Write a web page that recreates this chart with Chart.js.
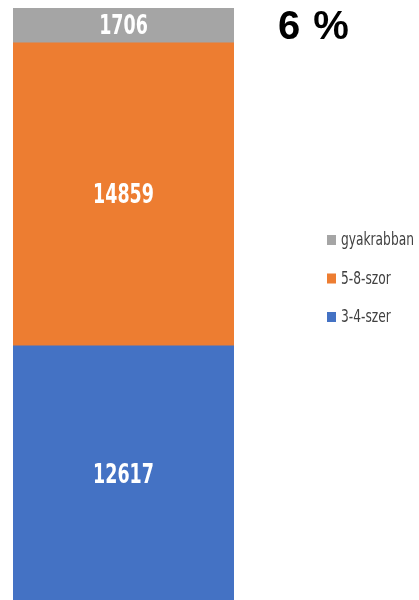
<!DOCTYPE html>
<html>
<head>
<meta charset="utf-8">
<script src="https://cdn.jsdelivr.net/npm/chart.js@4"></script>
<style>
    body { margin: 0; background: #fff; overflow: hidden; }
    #wrap { position: relative; width: 419px; height: 600px; overflow: hidden; }
    #pct {
        position: absolute; left: 278px; top: 3px;
        font-family: "Liberation Sans", Arial, sans-serif;
        font-weight: bold; font-size: 40px; letter-spacing: 1px; color: #000;
    }
</style>
</head>
<body>
<div id="wrap">
    <canvas id="barChart" width="419" height="603"></canvas>
    <div id="pct">6 %</div>
</div>
<script>
const categories = [''];
const seriesLabels = ['3-4-szer', '5-8-szor', 'gyakrabban'];
const values34 = [12617];
const values58 = [14859];
const valuesMore = [1706];
const seriesColors = ['#4472C4', '#ED7D31', '#A5A5A5'];
const legendOrder = [2, 1, 0];

const narrowFont = '"Liberation Sans Narrow", "DejaVu Sans Condensed", sans-serif';

// text squeezed sideways, the picture's font is narrower than what we have
function squeezedText(ctx, text, x, y, sx) {
    ctx.save();
    ctx.translate(x, y);
    ctx.scale(sx, 1);
    ctx.fillText(text, 0, 0);
    ctx.restore();
}

// labels inside the bars + legend at the right
const drawExtras = {
    id: 'drawExtras',
    afterDatasetsDraw(chart) {
        const ctx = chart.ctx;
        ctx.save();
        ctx.fillStyle = '#fff';
        ctx.font = 'bold 27px ' + narrowFont;
        ctx.textAlign = 'center';
        ctx.textBaseline = 'middle';
        chart.data.datasets.forEach((ds, i) => {
            chart.getDatasetMeta(i).data.forEach((bar, j) => {
                const mid = (bar.y + bar.base) / 2;
                squeezedText(ctx, String(ds.data[j]), bar.x, mid + 2, 0.72);
            });
        });

        ctx.font = '17px ' + narrowFont;
        ctx.textAlign = 'left';
        legendOrder.forEach((idx, row) => {
            const y = 240 + row * 38.5;
            ctx.fillStyle = seriesColors[idx];
            ctx.fillRect(327, y - 5, 9, 10);
            ctx.fillStyle = '#404040';
            squeezedText(ctx, seriesLabels[idx], 341, y + 1, 0.8);
        });
        ctx.restore();
    }
};

document.addEventListener('DOMContentLoaded', function() {
    const ctx = document.getElementById('barChart').getContext('2d');
    new Chart(ctx, {
        type: 'bar',
        data: {
            labels: categories,
            datasets: [
                { label: seriesLabels[0], data: values34, backgroundColor: seriesColors[0] },
                { label: seriesLabels[1], data: values58, backgroundColor: seriesColors[1] },
                { label: seriesLabels[2], data: valuesMore, backgroundColor: seriesColors[2] }
            ]
        },
        options: {
            responsive: false,
            animation: false,
            layout: { padding: { left: 13, right: 185, top: 8, bottom: 0 } },
            datasets: { bar: { barPercentage: 1, categoryPercentage: 1, borderWidth: 0 } },
            plugins: { legend: { display: false }, tooltip: { enabled: false } },
            scales: {
                x: { stacked: true, display: false },
                y: {
                    stacked: true, display: false, min: 0,
                    max: values34[0] + values58[0] + valuesMore[0]
                }
            }
        },
        plugins: [drawExtras]
    });
});
</script>
</body>
</html>
